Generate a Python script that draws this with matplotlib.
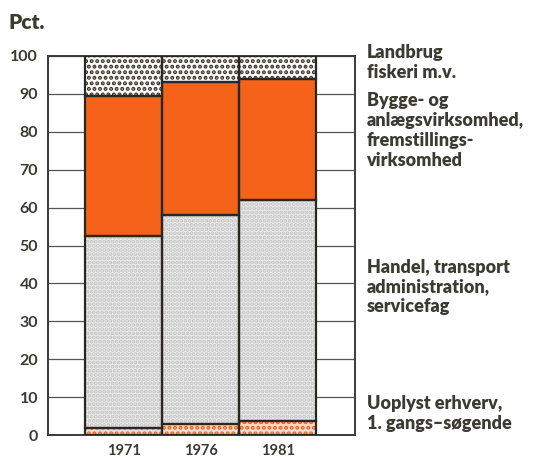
import matplotlib.pyplot as plt
import numpy as np

aar = ['1971', '1976', '1981']
# andele i pct. (nedefra og op)
uoplyst = [2.0, 3.0, 3.7]
handel = [50.5, 55.0, 58.3]
bygge = [37.0, 35.0, 32.0]
landbrug = [10.5, 7.0, 6.0]

y_ticks = [0, 10, 20, 30, 40, 50, 60, 70, 80, 90, 100]

tekst_farve = '#3b3b32'
orange = '#f5621a'
plt.rcParams['font.family'] = ['Lato', 'DejaVu Sans']
plt.rcParams['hatch.linewidth'] = 2.0

fig = plt.figure(figsize=(5.57, 4.62), dpi=100)
ax = fig.add_axes([0.086, 0.058, 0.551, 0.821])

x = np.arange(len(aar))
lag = [
    (uoplyst, '#f7dccd', '...', orange),
    (handel, '#ececec', '....', '#c4c4c4'),
    (bygge, orange, None, orange),
    (landbrug, 'white', '...', '#3a3228'),
]
bund = np.zeros(len(aar))
for vals, fc, hatch, hc in lag:
    ax.bar(x, vals, width=1.0, bottom=bund, color=fc, hatch=hatch,
           edgecolor=hc, linewidth=0, zorder=2)
    ax.bar(x, vals, width=1.0, bottom=bund, fill=False,
           edgecolor='#2a2622', linewidth=1.6, zorder=3)
    bund = bund + np.array(vals)

ax.set_xlim(-0.98, 3.0)
ax.set_ylim(0, 100)
ax.set_yticks(y_ticks)
ax.set_yticklabels([str(v) for v in y_ticks], fontsize=11.5, color=tekst_farve,
                   fontweight='bold')
ax.set_xticks(x)
ax.set_xticklabels(aar, fontsize=10.5, color=tekst_farve, fontweight='bold')
ax.tick_params(length=0, pad=7)
ax.tick_params(axis='x', pad=6)
ax.grid(axis='y', color='#555555', linewidth=0.9, zorder=0)
for s in ax.spines.values():
    s.set_color('#3a3a3a')
    s.set_linewidth(1.4)

fig.text(0.016, 0.972, 'Pct.', fontsize=15, fontweight='heavy',
         color=tekst_farve, va='top')

kw = dict(fontsize=13, fontweight='heavy', color=tekst_farve,
          va='top', linespacing=1.2)
fig.text(0.658, 0.905, 'Landbrug\nfiskeri m.v.', **kw)
fig.text(0.658, 0.800, 'Bygge- og\nanlægsvirksomhed,\nfremstillings-\nvirksomhed', **kw)
fig.text(0.658, 0.440, 'Handel, transport\nadministration,\nservicefag', **kw)
fig.text(0.658, 0.145, 'Uoplyst erhverv,\n1. gangs–søgende', **kw)

fig.savefig('out.png', dpi=100)
